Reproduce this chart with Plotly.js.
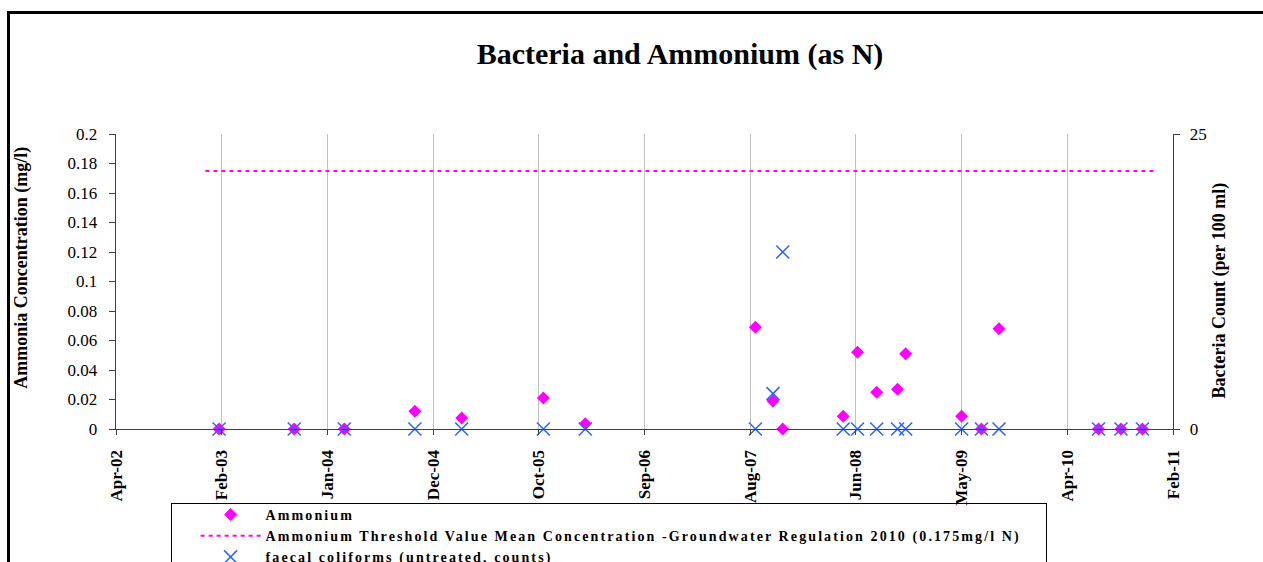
<!DOCTYPE html>
<html>
<head>
<meta charset="utf-8">
<script src="https://cdn.plot.ly/plotly-3.0.1.min.js"></script>
<style>
  html, body { margin: 0; padding: 0; background: #fff; overflow: hidden; }
  #wrap { position: relative; width: 1263px; height: 562px; overflow: hidden; }
  #chart { position: absolute; left: 0; top: 0; width: 1263px; height: 562px; }
  #frame { position: absolute; left: 7px; top: 11px; width: 1400px; height: 700px; border: 3px solid #000; pointer-events: none; }
  #legbox { position: absolute; left: 171px; top: 503px; width: 874px; height: 200px; border: 1px solid #000; pointer-events: none; }
  .legendtext { letter-spacing: 2.1px; }
</style>
</head>
<body>
<div id="wrap">
  <div id="chart"></div>
  <div id="frame"></div>
  <div id="legbox"></div>
</div>
<script>
// ---- data ----
const sampleDates = ['2003-02-12','2003-10-01','2004-03-03','2004-10-06','2005-02-27','2005-11-05','2006-03-14',
  '2007-08-19','2007-10-12','2007-11-11','2008-05-15','2008-06-28','2008-08-26','2008-10-29','2008-11-23',
  '2009-05-14','2009-07-14','2009-09-06','2010-07-09','2010-09-16','2010-11-21'];
const ammonium = [0, 0, 0, 0.012, 0.0075, 0.021, 0.0035,
  0.069, 0.019, 0, 0.0087, 0.052, 0.025, 0.027, 0.051,
  0.0087, 0, 0.068, 0, 0, 0];
const coliforms = [0, 0, 0, 0, 0, 0, 0,
  0, 3, 15, 0, 0, 0, 0, 0,
  0, 0, 0, 0, 0, 0];
const thresholdDates = ['2003-01-01', '2010-12-31'];
const thresholdValues = [0.175, 0.175];
const tickDates = ['2002-04-01','2003-02-20','2004-01-11','2004-12-01','2005-10-22','2006-09-12',
  '2007-08-03','2008-06-23','2009-05-14','2010-04-04','2011-02-23'];
const tickLabels = ['Apr-02','Feb-03','Jan-04','Dec-04','Oct-05','Sep-06','Aug-07','Jun-08','May-09','Apr-10','Feb-11'];
const leftTicks = [0, 0.02, 0.04, 0.06, 0.08, 0.1, 0.12, 0.14, 0.16, 0.18, 0.2];
const leftTickLabels = ['0','0.02','0.04','0.06','0.08','0.1','0.12','0.14','0.16','0.18','0.2'];
const rightTicks = [0, 25];

const SERIF = "'Liberation Serif', 'Times New Roman', serif";

const traces = [
  {
    name: 'Ammonium', x: sampleDates, y: ammonium, type: 'scatter', mode: 'markers',
    marker: { symbol: 'diamond', size: 10, color: '#FF00FF' }, cliponaxis: false, yaxis: 'y'
  },
  {
    name: 'Ammonium Threshold Value Mean Concentration -Groundwater Regulation 2010 (0.175mg/l N)',
    x: thresholdDates, y: thresholdValues, type: 'scatter', mode: 'lines',
    line: { color: '#FF00FF', width: 2, dash: '4px,4px' }, yaxis: 'y'
  },
  {
    name: 'faecal coliforms (untreated, counts)', x: sampleDates, y: coliforms, type: 'scatter', mode: 'markers',
    marker: { symbol: 'x-thin-open', size: 13, color: '#3366FF', line: { color: '#3366FF', width: 1.6 } },
    cliponaxis: false, yaxis: 'y2'
  }
];

const layout = {
  width: 1263, height: 562,
  margin: { l: 116, r: 90, t: 134, b: 133, autoexpand: false },
  paper_bgcolor: 'rgba(0,0,0,0)', plot_bgcolor: 'rgba(0,0,0,0)',
  font: { family: SERIF, color: '#000' },
  showlegend: true,
  title: {
    text: 'Bacteria and Ammonium (as N)', xref: 'container', yref: 'container',
    x: 0.5384, xanchor: 'center', y: 0.904, yanchor: 'middle',
    font: { family: SERIF, size: 30, weight: 'bold', color: '#000' }
  },
  xaxis: {
    type: 'date', range: ['2002-04-01', '2011-02-23'],
    tickmode: 'array', tickvals: tickDates, ticktext: tickLabels,
    tickangle: -90, ticks: 'outside', ticklen: 5, tickcolor: '#404040',
    ticklabelstandoff: 8,
    tickfont: { family: SERIF, size: 17, weight: 'bold', color: '#000' },
    showgrid: true, gridcolor: '#c0c0c0', gridwidth: 1,
    showline: true, linecolor: '#404040', linewidth: 1.3, zeroline: false
  },
  yaxis: {
    range: [0, 0.2], tickmode: 'array', tickvals: leftTicks, ticktext: leftTickLabels,
    ticks: 'outside', ticklen: 6, tickcolor: '#404040', ticklabelstandoff: 8,
    tickfont: { family: SERIF, size: 17, color: '#000' },
    showgrid: false, showline: true, linecolor: '#404040', linewidth: 1.3, zeroline: false
  },
  yaxis2: {
    range: [0, 25], overlaying: 'y', side: 'right', tickmode: 'array', tickvals: rightTicks,
    ticks: 'outside', ticklen: 6, tickcolor: '#404040', ticklabelstandoff: 6,
    tickfont: { family: SERIF, size: 17, color: '#000' },
    showgrid: false, showline: true, linecolor: '#404040', linewidth: 1.3, zeroline: false
  },
  legend: {
    x: 0.0753, xanchor: 'left', y: -0.237, yanchor: 'top', xref: 'paper', yref: 'paper',
    bgcolor: 'rgba(0,0,0,0)', borderwidth: 0, itemwidth: 60, traceorder: 'normal',
    font: { family: SERIF, size: 14, weight: 'bold', color: '#000' }
  },
  annotations: [
    {
      text: 'Ammonia Concentration (mg/l)', xref: 'paper', yref: 'paper', x: -0.0889, y: 0.547,
      textangle: -90, showarrow: false, xanchor: 'center', yanchor: 'middle',
      font: { family: SERIF, size: 18, weight: 'bold', color: '#000' }
    },
    {
      text: 'Bacteria Count (per 100 ml)', xref: 'paper', yref: 'paper', x: 1.044, y: 0.468,
      textangle: -90, showarrow: false, xanchor: 'center', yanchor: 'middle',
      font: { family: SERIF, size: 18, weight: 'bold', color: '#000' }
    }
  ]
};

Plotly.newPlot('chart', traces, layout, { displayModeBar: false, staticPlot: true });
</script>
</body>
</html>
